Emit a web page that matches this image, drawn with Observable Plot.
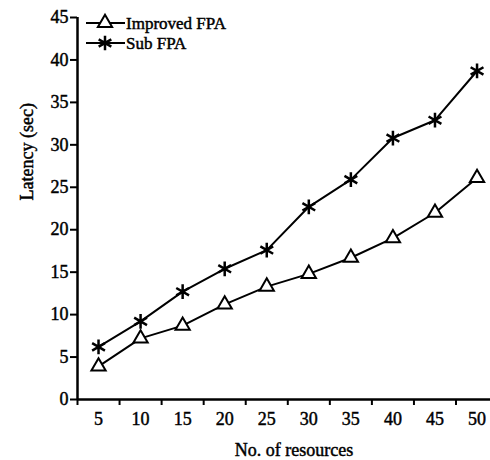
<!DOCTYPE html>
<html>
<head>
<meta charset="utf-8">
<script src="https://cdn.jsdelivr.net/npm/d3@7"></script>
<script src="https://cdn.jsdelivr.net/npm/@observablehq/plot@0.6"></script>
<style>
  html, body { margin: 0; padding: 0; background: #fff; }
  #wrap { position: relative; width: 490px; height: 460px; }
  #legend { position: absolute; left: 0; top: 0; }
  #wrap svg text { stroke: #000; stroke-width: 0.45px; }
</style>
</head>
<body>
<div id="wrap"></div>
<script>
const resources = [5, 10, 15, 20, 25, 30, 35, 40, 45, 50];
const improvedFPA = [3.9, 7.2, 8.7, 11.2, 13.3, 14.8, 16.7, 19.0, 22.0, 26.1];
const subFPA = [6.2, 9.2, 12.7, 15.4, 17.6, 22.7, 25.9, 30.8, 32.9, 38.7];
const seriesNames = ["Improved FPA", "Sub FPA"];
const yTicks = [0, 5, 10, 15, 20, 25, 30, 35, 40, 45];

const data = [
  ...resources.map((r, i) => ({x: r, y: improvedFPA[i], s: seriesNames[0]})),
  ...resources.map((r, i) => ({x: r, y: subFPA[i], s: seriesNames[1]}))
];
const boundaries = [2.5, ...resources.slice(0, -1).map(r => r + 2.5)];
const font = "'Liberation Serif', 'Times New Roman', serif";

const chart = Plot.plot({
  width: 490,
  height: 460,
  marginLeft: 77,
  marginRight: 0,
  marginTop: 17,
  marginBottom: 61,
  style: {fontFamily: font, fontSize: "18px", color: "#000", background: "#fff"},
  x: {domain: [2.5, 51.6]},
  y: {domain: [0, 45]},
  marks: [
    Plot.axisY({ticks: yTicks, tickSize: 7, tickPadding: 2, strokeWidth: 2, fontSize: 18, label: null}),
    Plot.axisX({ticks: resources, tickSize: 0, tickPadding: 13, fontSize: 18, label: null}),
    Plot.axisX({ticks: boundaries, tickSize: 6, tickFormat: () => "", strokeWidth: 2, label: null}),
    Plot.ruleX([2.5], {y1: 0, y2: 45, stroke: "#000", strokeWidth: 2.5}),
    Plot.ruleY([0], {stroke: "#000", strokeWidth: 2.5}),
    Plot.text(["Latency (sec)"], {frameAnchor: "left", rotate: -90, dx: -50, dy: -8, fontSize: 18, fontFamily: font}),
    Plot.text(["No. of resources"], {frameAnchor: "bottom", dy: 56, dx: 10, fontSize: 18, fontFamily: font}),
    Plot.line(data, {x: "x", y: "y", z: "s", stroke: "#000", strokeWidth: 2}),
    Plot.dot(data.filter(d => d.s === seriesNames[0]), {x: "x", y: "y", symbol: "triangle", r: 5.3, fill: "#fff", stroke: "#000", strokeWidth: 2}),
    Plot.dot(data.filter(d => d.s === seriesNames[1]), {x: "x", y: "y", symbol: "asterisk", r: 7, stroke: "#000", strokeWidth: 2.5})
  ]
});
document.getElementById("wrap").appendChild(chart);

// Legend
const leg = d3.select("#wrap").append("svg")
  .attr("id", "legend").attr("width", 260).attr("height", 60);
const rows = [
  {name: seriesNames[0], sym: d3.symbolTriangle, size: 88, fill: "#fff", sw: 2},
  {name: seriesNames[1], sym: d3.symbolAsterisk, size: 150, fill: "none", sw: 2.5}
];
rows.forEach((row, i) => {
  const cy = 23 + i * 20;
  const g = leg.append("g").attr("transform", `translate(0,${cy})`);
  g.append("line").attr("x1", 86).attr("x2", 125).attr("stroke", "#000").attr("stroke-width", 2);
  g.append("path").attr("d", d3.symbol(row.sym, row.size)()).attr("transform", "translate(105,0)")
    .attr("fill", row.fill).attr("stroke", "#000").attr("stroke-width", row.sw);
  g.append("text").attr("x", 126).attr("dy", "0.35em").attr("font-family", font).attr("font-size", 17)
    .text(row.name);
});
</script>
</body>
</html>
